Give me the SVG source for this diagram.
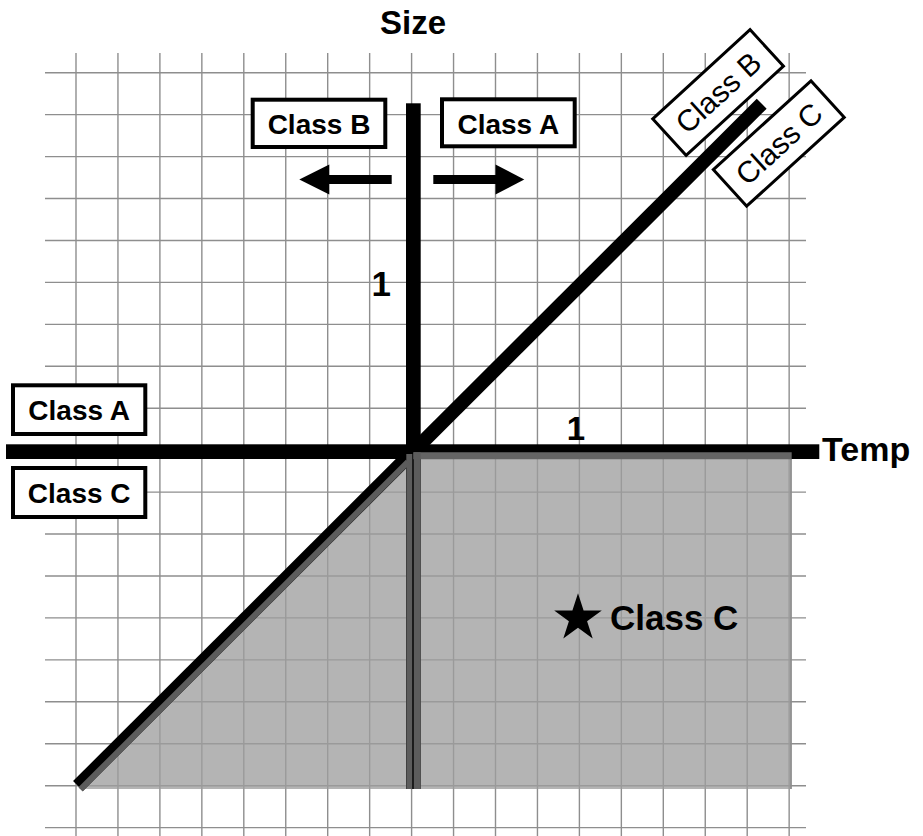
<svg xmlns="http://www.w3.org/2000/svg" width="923" height="836" viewBox="0 0 923 836">
<defs>
<style>
.grid line{stroke:#8e8e8e;stroke-width:1.4}
.box{fill:#fff;stroke:#000;stroke-width:4}
.rbox{fill:#fff;stroke:#000;stroke-width:3}
.lbl{font-family:"Liberation Sans",Arial,sans-serif;font-weight:bold;font-size:28px;fill:#000;text-anchor:middle}
.rlbl{font-family:"Liberation Sans",Arial,sans-serif;font-size:30px;fill:#000;text-anchor:middle}
.big{font-family:"Liberation Sans",Arial,sans-serif;font-weight:bold;fill:#000}
.border{stroke:#646464;stroke-width:7;fill:none}
</style>
</defs>
<rect width="923" height="836" fill="#fff"/>
<g id="grid" class="grid">
<line x1="76" y1="53" x2="76" y2="836"/>
<line x1="117.95" y1="53" x2="117.95" y2="836"/>
<line x1="159.9" y1="53" x2="159.9" y2="836"/>
<line x1="201.85" y1="53" x2="201.85" y2="836"/>
<line x1="243.8" y1="53" x2="243.8" y2="836"/>
<line x1="285.75" y1="53" x2="285.75" y2="836"/>
<line x1="327.7" y1="53" x2="327.7" y2="836"/>
<line x1="369.65" y1="53" x2="369.65" y2="836"/>
<line x1="411.6" y1="53" x2="411.6" y2="836"/>
<line x1="453.55" y1="53" x2="453.55" y2="836"/>
<line x1="495.5" y1="53" x2="495.5" y2="836"/>
<line x1="537.45" y1="53" x2="537.45" y2="836"/>
<line x1="579.4" y1="53" x2="579.4" y2="836"/>
<line x1="621.35" y1="53" x2="621.35" y2="836"/>
<line x1="663.3" y1="53" x2="663.3" y2="836"/>
<line x1="705.25" y1="53" x2="705.25" y2="836"/>
<line x1="747.2" y1="53" x2="747.2" y2="836"/>
<line x1="789.15" y1="53" x2="789.15" y2="836"/>
<line x1="45" y1="72.7" x2="806" y2="72.7"/>
<line x1="45" y1="114.64" x2="806" y2="114.64"/>
<line x1="45" y1="156.58" x2="806" y2="156.58"/>
<line x1="45" y1="198.52" x2="806" y2="198.52"/>
<line x1="45" y1="240.46" x2="806" y2="240.46"/>
<line x1="45" y1="282.4" x2="806" y2="282.4"/>
<line x1="45" y1="324.34" x2="806" y2="324.34"/>
<line x1="45" y1="366.28" x2="806" y2="366.28"/>
<line x1="45" y1="408.22" x2="806" y2="408.22"/>
<line x1="45" y1="450.16" x2="806" y2="450.16"/>
<line x1="45" y1="492.1" x2="806" y2="492.1"/>
<line x1="45" y1="534.04" x2="806" y2="534.04"/>
<line x1="45" y1="575.98" x2="806" y2="575.98"/>
<line x1="45" y1="617.92" x2="806" y2="617.92"/>
<line x1="45" y1="659.86" x2="806" y2="659.86"/>
<line x1="45" y1="701.8" x2="806" y2="701.8"/>
<line x1="45" y1="743.74" x2="806" y2="743.74"/>
<line x1="45" y1="785.68" x2="806" y2="785.68"/>
<line x1="45" y1="827.62" x2="806" y2="827.62"/>
</g>
<g id="shading">
<polygon points="413,452 791.7,452 791.7,789 79,789" fill="#9d9d9d" fill-opacity="0.77"/>
<line x1="791" y1="452" x2="791" y2="789" stroke="#8a8a8a" stroke-width="1.5"/>
</g>
<g id="axes">
<rect x="406" y="103.3" width="14.7" height="685.7" fill="#000"/>
<rect x="6" y="444.3" width="813.3" height="14.7" fill="#000"/>
<line x1="78" y1="786" x2="761.7" y2="103.7" stroke="#000" stroke-width="14"/>
</g>
<g id="shading-borders">
<line class="border" x1="413.3" y1="455.7" x2="791.7" y2="455.7"/>
<line x1="409.3" y1="454" x2="409.3" y2="789" stroke="#5c5c5c" stroke-width="6"/>
<line x1="417.2" y1="452.3" x2="417.2" y2="789" stroke="#5c5c5c" stroke-width="7"/>
<line x1="80.5" y1="789.4" x2="408" y2="461.9" stroke="#5c5c5c" stroke-width="6"/>
</g>
<g id="axis-labels">
<text id="size-label" class="big" x="413" y="34" font-size="33" text-anchor="middle">Size</text>
<text id="temp-label" class="big" x="822" y="461" font-size="34">Temp</text>
<text id="one-vertical" class="big" x="381.3" y="296" font-size="35" text-anchor="middle">1</text>
<text id="one-horizontal" class="big" x="576" y="440" font-size="33" text-anchor="middle">1</text>
</g>
<g id="box-class-b-top">
<rect class="box" x="252.7" y="99.7" width="132.6" height="47.3"/>
<text class="lbl" x="319" y="134.3">Class B</text>
</g>
<g id="box-class-a-top">
<rect class="box" x="442" y="99.3" width="132.7" height="47"/>
<text class="lbl" x="508.3" y="134.3">Class A</text>
</g>
<g id="box-class-a-left">
<rect class="box" x="13" y="385.3" width="132.3" height="48.7"/>
<text class="lbl" x="79.2" y="420">Class A</text>
</g>
<g id="box-class-c-left">
<rect class="box" x="13" y="468" width="132.3" height="49"/>
<text class="lbl" x="79.2" y="503.3">Class C</text>
</g>
<g id="box-class-b-diag" transform="translate(718.1,92.5) rotate(-42.5)">
<rect class="rbox" x="-66" y="-24.7" width="132" height="49.4"/>
<text class="rlbl" x="0" y="10.7">Class B</text>
</g>
<g id="box-class-c-diag" transform="translate(778.8,143.5) rotate(-42.3)">
<rect class="rbox" x="-66" y="-24.7" width="132" height="49.4"/>
<text class="rlbl" x="0" y="10.7">Class C</text>
</g>
<g id="star-class-c">
<polygon points="578,593.3 583.6,610.5 601.8,610.5 587.1,621.2 592.7,638.5 578,627.8 563.3,638.5 568.9,621.2 554.2,610.5 572.4,610.5" fill="#000"/>
<text class="big" x="610" y="630" font-size="35">Class C</text>
</g>
<g id="connectors">
<line x1="391.7" y1="179.5" x2="327" y2="179.5" stroke="#000" stroke-width="9"/>
<polygon points="299.3,179.5 329.3,164.5 329.3,194.5" fill="#000"/>
<line x1="433.3" y1="179.5" x2="498" y2="179.5" stroke="#000" stroke-width="9"/>
<polygon points="524.3,179.5 495.5,164.5 495.5,194.5" fill="#000"/>
</g>
</svg>
